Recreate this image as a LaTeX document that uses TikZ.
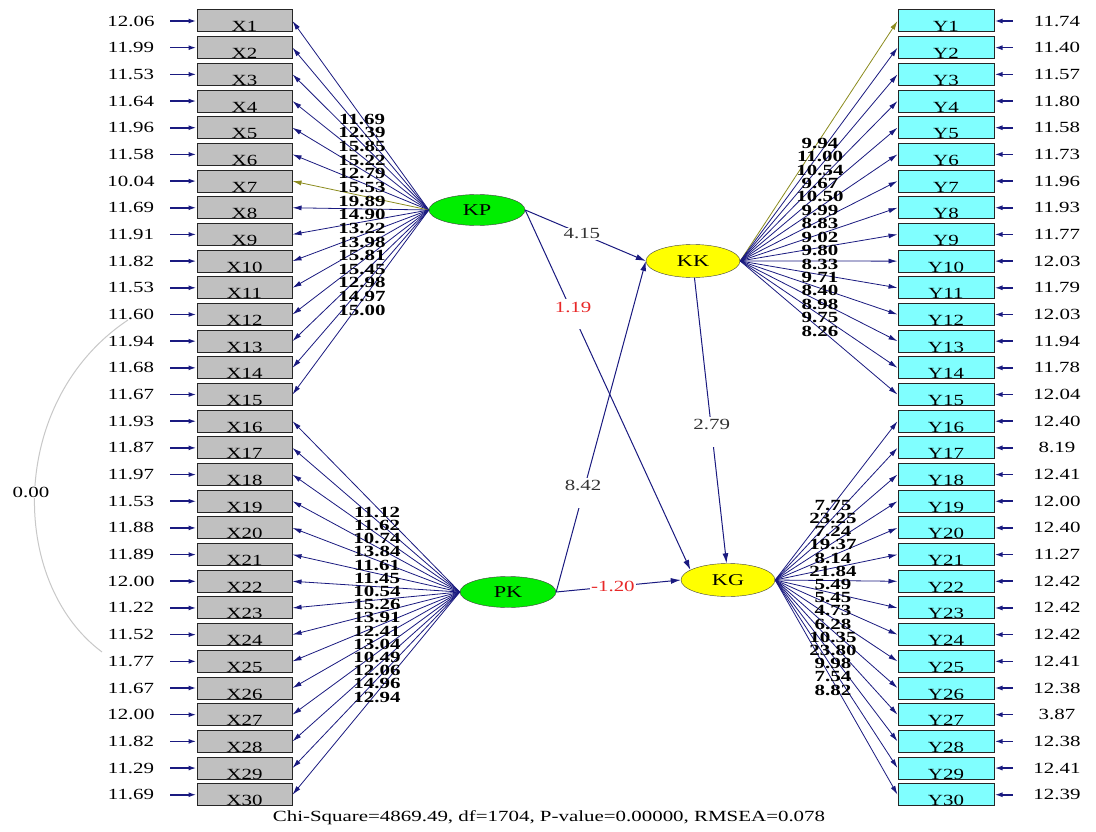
\documentclass[tikz,border=0pt]{standalone}
\usepackage{fontspec}
\setmainfont{Liberation Serif}[FakeStretch=1.35]
\usepackage{tikz}
\usetikzlibrary{arrows.meta,positioning,calc,shapes.geometric}
\definecolor{Navy}{HTML}{1A1A80}
\definecolor{Olive}{HTML}{8C8C1E}
\definecolor{XGrey}{HTML}{C0C0C0}
\definecolor{YCyan}{HTML}{80FFFF}
\definecolor{LGreen}{HTML}{00EE00}
\definecolor{LYellow}{HTML}{FFFF00}
\definecolor{ArcGrey}{HTML}{C8C8C8}
\definecolor{NegRed}{HTML}{E82828}

\begin{document}
\begin{tikzpicture}[x=1pt, y=-1pt,
  every node/.style={font=\fontsize{15.5}{16}\selectfont},
  xbox/.style={rectangle, draw=black!85, line width=1pt, fill=XGrey,
               minimum width=95pt, inner xsep=0pt, inner ysep=0pt,
               text height=22pt, text depth=0pt},
  ybox/.style={xbox, fill=YCyan, minimum width=96pt},
  exo/.style={ellipse, draw=black!75, thin, fill=LGreen,
              minimum width=96pt, minimum height=31pt, inner sep=0pt,
              font=\fontsize{16.5}{17}\selectfont},
  endo/.style={exo, fill=LYellow, minimum width=94pt, minimum height=33pt},
  err/.style={text width=52pt, align=center, inner sep=0pt},
  lbl/.style={font=\fontsize{15.5}{16}\selectfont\bfseries, inner sep=0pt,
              text height=10.5pt, text depth=0pt},
  ld/.style={draw=Navy, line width=0.8pt, -{Latex[length=9pt,width=5pt]}},
  earr/.style={draw=Navy, line width=1.6pt, -{Latex[length=8pt,width=5pt]}},
  sarr/.style={draw=Navy, line width=1pt, -{Latex[length=10pt,width=6pt]}},
  plab/.style={fill=white, inner sep=1pt, text=black!80},
  plabv/.style={plab, text height=12pt, text depth=16pt},
  cov/.style={draw=ArcGrey, line width=1pt},
]
\fill[white] (0,0) rectangle (1096,832);
% latent variables
\node[exo]  (kp) at (477,210) {KP};
\node[exo]  (pk) at (508,592) {PK};
\node[endo] (kk) at (693,261) {KK};
\node[endo] (kg) at (728,580) {KG};
% indicators and error variances
\foreach \e [count=\i] in {12.06,11.99,11.53,11.64,11.96,11.58,10.04,11.69,11.91,11.82,
                          11.53,11.60,11.94,11.68,11.67,11.93,11.87,11.97,11.53,11.88,
                          11.89,12.00,11.22,11.52,11.77,11.67,12.00,11.82,11.29,11.69}{
  \node[xbox] (x\i) at (244.5,{21+(\i-1)*26.68}) {X\i};
  \node[err] (ex\i) at (131,{21+(\i-1)*26.68}) {\e};
  \draw[earr, shorten <=13pt] (ex\i.east) -- (x\i.west);
}
\foreach \e [count=\i] in {11.74,11.40,11.57,11.80,11.58,11.73,11.96,11.93,11.77,12.03,
                          11.79,12.03,11.94,11.78,12.04,12.40,8.19,12.41,12.00,12.40,
                          11.27,12.42,12.42,12.42,12.41,12.38,3.87,12.38,12.41,12.39}{
  \node[ybox] (y\i) at (946,{21+(\i-1)*26.68}) {Y\i};
  \node[err] (ey\i) at (1057,{21+(\i-1)*26.68}) {\e};
  \draw[earr, shorten <=18pt] (ey\i.west) -- (y\i.east);
}
% loadings
\foreach \v/\c [count=\i] in {11.69/Navy,12.39/Navy,15.85/Navy,15.22/Navy,12.79/Navy,
                             15.53/Navy,19.89/Olive,14.90/Navy,13.22/Navy,13.98/Navy,
                             15.81/Navy,15.45/Navy,12.98/Navy,14.97/Navy,15.00/Navy}{
  \draw[ld, draw=\c] (kp.west) -- (x\i.east);
}
\foreach \v [count=\i] in {11.69,12.39,15.85,15.22,12.79,15.53,19.89,14.90,
                          13.22,13.98,15.81,15.45,12.98,14.97,15.00}
  \node[lbl] (lx\i) at (362,{119+(\i-1)*13.64}) {\v};
\foreach \v [count=\k] in {11.12,11.62,10.74,13.84,11.61,11.45,10.54,15.26,
                          13.91,12.41,13.04,10.49,12.06,14.96,12.94}{
  \pgfmathtruncatemacro{\i}{\k+15}
  \draw[ld] (pk.west) -- (x\i.east);
}
\foreach \v [count=\k] in {11.12,11.62,10.74,13.84,11.61,11.45,10.54,15.26,
                          13.91,12.41,13.04,10.49,12.06,14.96,12.94}
  \node[lbl] (lp\k) at (377,{512+(\k-1)*13.2}) {\v};
\foreach \v/\c [count=\i] in {9.94/Olive,11.00/Navy,10.54/Navy,9.67/Navy,10.50/Navy,
                             9.99/Navy,8.83/Navy,9.02/Navy,9.80/Navy,8.33/Navy,
                             9.71/Navy,8.40/Navy,8.98/Navy,9.75/Navy,8.26/Navy}{
  \draw[ld, draw=\c] (kk.east) -- (y\i.west);
}
\foreach \v [count=\i] in {9.94,11.00,10.54,9.67,10.50,9.99,8.83,9.02,
                          9.80,8.33,9.71,8.40,8.98,9.75,8.26}
  \node[lbl] (ly\i) at (820,{143+(\i-1)*13.43}) {\v};
\foreach \v [count=\k] in {7.75,23.25,7.24,19.37,8.14,21.84,5.49,5.45,
                          4.73,6.28,10.35,23.80,9.98,7.54,8.82}{
  \pgfmathtruncatemacro{\i}{\k+15}
  \draw[ld] (kg.east) -- (y\i.west);
}
\foreach \v [count=\k] in {7.75,23.25,7.24,19.37,8.14,21.84,5.49,5.45,
                          4.73,6.28,10.35,23.80,9.98,7.54,8.82}
  \node[lbl] (lg\k) at (833,{505+(\k-1)*13.2}) {\v};
% structural paths
\draw[sarr] (kp.east) -- node[plab, pos=0.47] (b1) {4.15} (kk.west);
\draw[sarr] (kp.east) -- node[plabv, pos=0.29, text=NegRed] (b2) {1.19} (kg.165);
\draw[sarr] (pk.east) -- node[plabv, pos=0.30] (b3) {8.42} (kk.west);
\draw[sarr] (kk.-85) -- node[plabv, pos=0.54] (b4) {2.79} (kg.95);
\draw[sarr] (pk.east) -- node[plab, pos=0.455, text=NegRed] (b5) {-1.20} (kg.west);
% error covariance
\coordinate (c12) at (128,320);
\coordinate (c25) at (102,652);
\draw[cov] (c12) .. controls (8,400) and (8,582) .. (c25);
\node[fill=white, inner sep=1pt] (cv) at (31,492) {0.00};
% fit
\node (fit) at (549,818) {Chi-Square=4869.49, df=1704, P-value=0.00000, RMSEA=0.078};
\end{tikzpicture}
\end{document}
